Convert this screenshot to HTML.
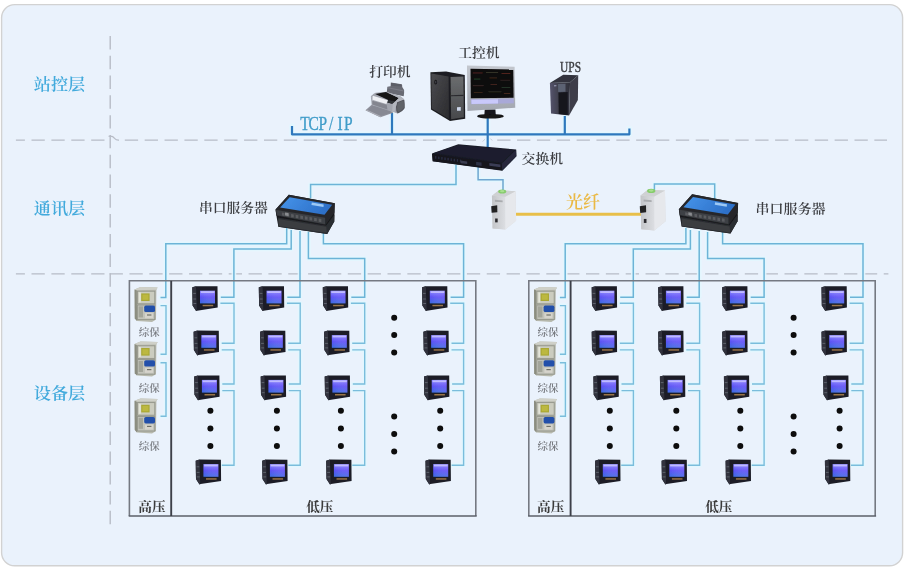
<!DOCTYPE html>
<html lang="zh-CN">
<head>
<meta charset="utf-8">
<title>系统结构图</title>
<style>
html,body{margin:0;padding:0;background:#fff;}
body{width:905px;height:569px;overflow:hidden;font-family:"Liberation Serif","Noto Serif CJK SC",serif;}
svg{display:block;}
</style>
</head>
<body>
<svg width="905" height="569" viewBox="0 0 905 569">
<defs>
<filter id="soft" x="0" y="0" width="905" height="569" filterUnits="userSpaceOnUse"><feGaussianBlur stdDeviation="0.5"/></filter>
<filter id="soft2" x="0" y="0" width="905" height="569" filterUnits="userSpaceOnUse"><feGaussianBlur stdDeviation="0.45"/></filter>
<linearGradient id="scr" x1="0" y1="0" x2="0" y2="1"><stop offset="0" stop-color="#8a86ff"/><stop offset="0.5" stop-color="#5a50f5"/><stop offset="1" stop-color="#3a6ae0"/></linearGradient>
<linearGradient id="gTowerSide" x1="0" y1="0" x2="1" y2="1"><stop offset="0" stop-color="#4c4c50"/><stop offset="1" stop-color="#2a2a2d"/></linearGradient>
<linearGradient id="gTowerFront" x1="0" y1="0" x2="0" y2="1"><stop offset="0" stop-color="#6a6c6e"/><stop offset="1" stop-color="#48494c"/></linearGradient>
<linearGradient id="gBezel" x1="0" y1="0" x2="0" y2="1"><stop offset="0" stop-color="#c3c7ce"/><stop offset="1" stop-color="#a3a7b0"/></linearGradient>
<linearGradient id="gUpsFront" x1="0" y1="0" x2="1" y2="0"><stop offset="0" stop-color="#56556d"/><stop offset="0.4" stop-color="#41414f"/><stop offset="1" stop-color="#30313b"/></linearGradient>
<linearGradient id="gBlue" x1="0" y1="0" x2="1" y2="0.3"><stop offset="0" stop-color="#4694ea"/><stop offset="1" stop-color="#2d70c8"/></linearGradient>
<linearGradient id="gFib" x1="0" y1="0" x2="1" y2="0"><stop offset="0" stop-color="#c3c5c8"/><stop offset="1" stop-color="#dcdee2"/></linearGradient>
<linearGradient id="scr2" x1="0" y1="0" x2="1" y2="0"><stop offset="0" stop-color="#fff" stop-opacity="0"/><stop offset="1" stop-color="#b080ff" stop-opacity="0.25"/></linearGradient>
<symbol id="meter" width="28" height="27" viewBox="0 0 28 27" overflow="visible">
<path d="M0.5 1.3 L4.3 0.2 L25.7 0.3 L25.9 21.5 L5.3 24.7 L4.3 25 L0.8 19.6 Z" fill="#1a1c25"/>
<path d="M0.5 1.3 L4.3 0.2 L5.1 24.7 L4.3 25 L0.8 19.6 Z" fill="#30333d"/>
<path d="M1.4 7.4 H4.1 M1.5 13 H4.3 M1.6 17.5 H4.5" stroke="#6a6d78" stroke-width="0.8" fill="none"/>
<rect x="8.2" y="4.7" width="15" height="12.7" fill="url(#scr)"/>
<rect x="8.2" y="4.7" width="15" height="12.7" fill="url(#scr2)"/>
<rect x="9" y="5.2" width="13.6" height="1.8" fill="#c8c4ff" opacity="0.85"/>
<rect x="10.8" y="18.8" width="10.6" height="1.5" fill="#9a7448"/>
</symbol>
<symbol id="relay" width="26" height="36" viewBox="0 0 26 36" overflow="visible">
<path d="M0.6 3.4 L6.5 1 L23.6 1.5 L22.4 3.8 L22 33.6 L18 36 L3 35 L0.8 32.6 Z" fill="#b7b9ad"/>
<path d="M0.6 3.4 L2.8 4.2 L3 35 L0.8 32.6 Z" fill="#8b8d80"/>
<path d="M6.5 1 L23.6 1.5 L22.4 3.8 L2.8 4.2 L0.6 3.4 Z" fill="#cfd0c8"/>
<rect x="3.4" y="5.2" width="17.4" height="12.6" fill="#cbccbf" stroke="#93958a" stroke-width="0.9"/>
<rect x="5" y="6.4" width="1.8" height="10" fill="#e4e5da"/>
<rect x="7.2" y="7.4" width="8.4" height="7.6" fill="#aaa834"/>
<rect x="8.4" y="8.6" width="6" height="5.2" fill="#bcb840"/>
<rect x="3.4" y="19" width="17.4" height="14.6" fill="#c2c3ba" stroke="#93958a" stroke-width="0.9"/>
<rect x="4.6" y="20.4" width="4.4" height="11" fill="#a3a59a"/>
<rect x="10.2" y="19.6" width="10.8" height="6.4" rx="1.6" fill="#2450aa"/>
<rect x="11" y="27.2" width="8" height="5" fill="#d6d4cc"/>
<rect x="13" y="28.4" width="4.4" height="1.2" fill="#6f7168"/>
</symbol>

</defs>
<g filter="url(#soft)">
<rect x="0" y="0" width="905" height="569" fill="#fff"/>
<rect x="1.6" y="4.6" width="901" height="561.2" rx="13" ry="13" fill="#EAF2FC" stroke="#d2d2d2" stroke-width="1.4"/>
<path d="M110.2 36 V267.1" stroke="#b7bcc6" stroke-width="1.4" stroke-dasharray="13.4 6.39" stroke-dashoffset="0" fill="none"/>
<path d="M110.2 273.3 V524.2" stroke="#b7bcc6" stroke-width="1.4" stroke-dasharray="13.4 6.39" stroke-dashoffset="0" fill="none"/>
<path d="M15.9 140.2 H104.5" stroke="#b7bcc6" stroke-width="1.25" stroke-dasharray="13.3 6.6" stroke-dashoffset="4.3" fill="none"/>
<path d="M124.8 140.2 H476" stroke="#b7bcc6" stroke-width="1.25" stroke-dasharray="13.3 6.58" stroke-dashoffset="0" fill="none"/>
<path d="M497.2 140.2 H887" stroke="#b7bcc6" stroke-width="1.25" stroke-dasharray="13.3 6.55" stroke-dashoffset="0" fill="none"/>
<path d="M108.6 136.4 Q112.5 135.6 114.6 138.4 Q116.2 140.3 119 140.1" fill="none" stroke="#b7bcc6" stroke-width="1.2"/>
<path d="M482.6 141.6 L487.6 136.6 L492.4 140.4" fill="none" stroke="#c9ced8" stroke-width="1"/>
<path d="M15.9 273.9 H104.5" stroke="#b7bcc6" stroke-width="1.25" stroke-dasharray="13.3 6.6" stroke-dashoffset="4.3" fill="none"/>
<path d="M109.6 273.9 H888.4" stroke="#b7bcc6" stroke-width="1.25" stroke-dasharray="13.3 6.55" stroke-dashoffset="0" fill="none"/>
<g opacity="0.9"><path d="M292 126 V134.3 H629.4 V128.5" fill="none" stroke="#E3F7FF" stroke-width="5.6" stroke-linejoin="round" stroke-linecap="round"/>
<path d="M392 113 V134.3" fill="none" stroke="#E3F7FF" stroke-width="5.4" stroke-linecap="round" stroke-linejoin="round"/>
<path d="M487.7 116 V148" fill="none" stroke="#E3F7FF" stroke-width="5.4" stroke-linecap="round" stroke-linejoin="round"/>
<path d="M564.8 116 V134.3" fill="none" stroke="#E3F7FF" stroke-width="5.4" stroke-linecap="round" stroke-linejoin="round"/>
<path d="M456 165 V184.6 H310.6 V198" fill="none" stroke="#E3F7FF" stroke-width="4.7" stroke-linecap="round" stroke-linejoin="round"/>
<path d="M478.1 166 V179.7 H503 V190" fill="none" stroke="#E3F7FF" stroke-width="4.7" stroke-linecap="round" stroke-linejoin="round"/>
<path d="M654.4 190 V184.1 H714.7 V199" fill="none" stroke="#E3F7FF" stroke-width="4.7" stroke-linecap="round" stroke-linejoin="round"/>
<path d="M286.7 228 V243.8 H165.8 V297.6 H160.5" fill="none" stroke="#E3F7FF" stroke-width="4.7" stroke-linecap="round" stroke-linejoin="round"/>
<path d="M291.2 230 V249 H233.9 V297.2 H220.8" fill="none" stroke="#E3F7FF" stroke-width="4.7" stroke-linecap="round" stroke-linejoin="round"/>
<path d="M300 231 V297.2 H287.3" fill="none" stroke="#E3F7FF" stroke-width="4.7" stroke-linecap="round" stroke-linejoin="round"/>
<path d="M308.4 232 V258.6 H364.7 V297.2 H351.3" fill="none" stroke="#E3F7FF" stroke-width="4.7" stroke-linecap="round" stroke-linejoin="round"/>
<path d="M323.4 232 V243.8 H463.6 V297.2 H450.6" fill="none" stroke="#E3F7FF" stroke-width="4.7" stroke-linecap="round" stroke-linejoin="round"/>
<path d="M160.5 305.6 H166 V354.3 H160.5" fill="none" stroke="#E3F7FF" stroke-width="4.6" stroke-linecap="round" stroke-linejoin="round"/>
<path d="M160.5 362.7 H166 V416.3 H160.5" fill="none" stroke="#E3F7FF" stroke-width="4.6" stroke-linecap="round" stroke-linejoin="round"/>
<path d="M220.4 303.3 H234 V343.2 H221.70000000000002" fill="none" stroke="#E3F7FF" stroke-width="4.6" stroke-linecap="round" stroke-linejoin="round"/>
<path d="M221.70000000000002 349.9 H234 V384 H222.3" fill="none" stroke="#E3F7FF" stroke-width="4.6" stroke-linecap="round" stroke-linejoin="round"/>
<path d="M222.3 390.6 H234 V465.2 H221.8" fill="none" stroke="#E3F7FF" stroke-width="4.6" stroke-linecap="round" stroke-linejoin="round"/>
<path d="M286.90000000000003 303.3 H300.2 V343.2 H288.20000000000005" fill="none" stroke="#E3F7FF" stroke-width="4.6" stroke-linecap="round" stroke-linejoin="round"/>
<path d="M288.20000000000005 349.9 H300.2 V384 H288.8" fill="none" stroke="#E3F7FF" stroke-width="4.6" stroke-linecap="round" stroke-linejoin="round"/>
<path d="M288.8 390.6 H300.2 V465.2 H288.3" fill="none" stroke="#E3F7FF" stroke-width="4.6" stroke-linecap="round" stroke-linejoin="round"/>
<path d="M350.90000000000003 303.3 H364.7 V343.2 H352.20000000000005" fill="none" stroke="#E3F7FF" stroke-width="4.6" stroke-linecap="round" stroke-linejoin="round"/>
<path d="M352.20000000000005 349.9 H364.7 V384 H352.8" fill="none" stroke="#E3F7FF" stroke-width="4.6" stroke-linecap="round" stroke-linejoin="round"/>
<path d="M352.8 390.6 H364.7 V465.2 H352.3" fill="none" stroke="#E3F7FF" stroke-width="4.6" stroke-linecap="round" stroke-linejoin="round"/>
<path d="M450.20000000000005 303.3 H463.6 V343.2 H451.50000000000006" fill="none" stroke="#E3F7FF" stroke-width="4.6" stroke-linecap="round" stroke-linejoin="round"/>
<path d="M451.50000000000006 349.9 H463.6 V384 H452.1" fill="none" stroke="#E3F7FF" stroke-width="4.6" stroke-linecap="round" stroke-linejoin="round"/>
<path d="M452.1 390.6 H463.6 V465.2 H451.6" fill="none" stroke="#E3F7FF" stroke-width="4.6" stroke-linecap="round" stroke-linejoin="round"/>
<path d="M685.9 228 V243.8 H565.2 V297.6 H559.9" fill="none" stroke="#E3F7FF" stroke-width="4.7" stroke-linecap="round" stroke-linejoin="round"/>
<path d="M690.4 230 V249 H633.3 V297.2 H620.2" fill="none" stroke="#E3F7FF" stroke-width="4.7" stroke-linecap="round" stroke-linejoin="round"/>
<path d="M699.2 231 V297.2 H686.7" fill="none" stroke="#E3F7FF" stroke-width="4.7" stroke-linecap="round" stroke-linejoin="round"/>
<path d="M707.5999999999999 232 V258.6 H764.0999999999999 V297.2 H750.7" fill="none" stroke="#E3F7FF" stroke-width="4.7" stroke-linecap="round" stroke-linejoin="round"/>
<path d="M722.5999999999999 232 V243.8 H863.0 V297.2 H850.0" fill="none" stroke="#E3F7FF" stroke-width="4.7" stroke-linecap="round" stroke-linejoin="round"/>
<path d="M559.9 305.6 H565.4 V354.3 H559.9" fill="none" stroke="#E3F7FF" stroke-width="4.6" stroke-linecap="round" stroke-linejoin="round"/>
<path d="M559.9 362.7 H565.4 V416.3 H559.9" fill="none" stroke="#E3F7FF" stroke-width="4.6" stroke-linecap="round" stroke-linejoin="round"/>
<path d="M619.8 303.3 H633.4 V343.2 H619.8" fill="none" stroke="#E3F7FF" stroke-width="4.6" stroke-linecap="round" stroke-linejoin="round"/>
<path d="M619.8 349.9 H633.4 V384 H621.5" fill="none" stroke="#E3F7FF" stroke-width="4.6" stroke-linecap="round" stroke-linejoin="round"/>
<path d="M621.5 390.6 H633.4 V465.2 H621.1999999999999" fill="none" stroke="#E3F7FF" stroke-width="4.6" stroke-linecap="round" stroke-linejoin="round"/>
<path d="M686.3 303.3 H699.5999999999999 V343.2 H686.3" fill="none" stroke="#E3F7FF" stroke-width="4.6" stroke-linecap="round" stroke-linejoin="round"/>
<path d="M686.3 349.9 H699.5999999999999 V384 H688.0" fill="none" stroke="#E3F7FF" stroke-width="4.6" stroke-linecap="round" stroke-linejoin="round"/>
<path d="M688.0 390.6 H699.5999999999999 V465.2 H687.6999999999999" fill="none" stroke="#E3F7FF" stroke-width="4.6" stroke-linecap="round" stroke-linejoin="round"/>
<path d="M750.3 303.3 H764.0999999999999 V343.2 H750.3" fill="none" stroke="#E3F7FF" stroke-width="4.6" stroke-linecap="round" stroke-linejoin="round"/>
<path d="M750.3 349.9 H764.0999999999999 V384 H752.0" fill="none" stroke="#E3F7FF" stroke-width="4.6" stroke-linecap="round" stroke-linejoin="round"/>
<path d="M752.0 390.6 H764.0999999999999 V465.2 H751.6999999999999" fill="none" stroke="#E3F7FF" stroke-width="4.6" stroke-linecap="round" stroke-linejoin="round"/>
<path d="M849.6 303.3 H863.0 V343.2 H849.6" fill="none" stroke="#E3F7FF" stroke-width="4.6" stroke-linecap="round" stroke-linejoin="round"/>
<path d="M849.6 349.9 H863.0 V384 H851.3000000000001" fill="none" stroke="#E3F7FF" stroke-width="4.6" stroke-linecap="round" stroke-linejoin="round"/>
<path d="M851.3000000000001 390.6 H863.0 V465.2 H851.0" fill="none" stroke="#E3F7FF" stroke-width="4.6" stroke-linecap="round" stroke-linejoin="round"/></g>
<text x="33.8" y="89.7" font-size="16.4" fill="#43AADC" font-family='"Liberation Serif","Noto Serif CJK SC",serif' textLength="51.4" lengthAdjust="spacingAndGlyphs" font-weight="600">站控层</text>
<text x="33.8" y="213.9" font-size="16.4" fill="#43AADC" font-family='"Liberation Serif","Noto Serif CJK SC",serif' textLength="51.4" lengthAdjust="spacingAndGlyphs" font-weight="600">通讯层</text>
<text x="33.8" y="398.6" font-size="16.4" fill="#43AADC" font-family='"Liberation Serif","Noto Serif CJK SC",serif' textLength="51.4" lengthAdjust="spacingAndGlyphs" font-weight="600">设备层</text>
<path d="M292 126 V134.3 H629.4 V128.5" fill="none" stroke="#2E78BD" stroke-width="2.2" stroke-linejoin="round"/>
<path d="M392 113 V134.3" fill="none" stroke="#2E78BD" stroke-width="2.2"/>
<path d="M487.7 116 V148" fill="none" stroke="#2E78BD" stroke-width="2.2"/>
<path d="M564.8 116 V134.3" fill="none" stroke="#2E78BD" stroke-width="2.2"/>
<text transform="translate(300.2 130.4) scale(0.87 1)" font-size="17.8" fill="#3F9CC9" stroke="#3F9CC9" stroke-width="0.3" font-family='"Liberation Serif",serif' x="0 9.6 21 33 42.8 50.4" y="0">TCP/IP</text>
<text x="369.2" y="76.0" font-size="13" fill="#3c3e42" font-family='"Liberation Serif","Noto Serif CJK SC",serif' textLength="41.4" lengthAdjust="spacingAndGlyphs" font-weight="600">打印机</text>
<text x="458.2" y="57.3" font-size="13" fill="#3c3e42" font-family='"Liberation Serif","Noto Serif CJK SC",serif' textLength="41.4" lengthAdjust="spacingAndGlyphs" font-weight="600">工控机</text>
<text x="560" y="71.8" font-size="14" fill="#3c3e42" font-family='"Liberation Serif","Noto Serif CJK SC",serif' textLength="21" lengthAdjust="spacingAndGlyphs" stroke="#3c3e42" stroke-width="0.4">UPS</text>
<text x="521.6" y="162.9" font-size="13" fill="#3c3e42" font-family='"Liberation Serif","Noto Serif CJK SC",serif' textLength="41.4" lengthAdjust="spacingAndGlyphs" font-weight="600">交换机</text>
<text x="198.9" y="211.8" font-size="13" fill="#3c3e42" font-family='"Liberation Serif","Noto Serif CJK SC",serif' textLength="69" lengthAdjust="spacingAndGlyphs" font-weight="600">串口服务器</text>
<text x="755.6" y="212.9" font-size="13" fill="#3c3e42" font-family='"Liberation Serif","Noto Serif CJK SC",serif' textLength="70" lengthAdjust="spacingAndGlyphs" font-weight="600">串口服务器</text>
<text x="566" y="208" font-size="17" fill="#EAB945" font-family='"Liberation Serif","Noto Serif CJK SC",serif' textLength="34" lengthAdjust="spacingAndGlyphs" font-weight="600">光纤</text>
<path d="M456 165 V184.6 H310.6 V198" fill="none" stroke="#6CB4D7" stroke-width="1.5"/>
<path d="M478.1 166 V179.7 H503 V190" fill="none" stroke="#6FA6D0" stroke-width="1.5"/>
<path d="M516 214.3 H642" fill="none" stroke="#E8BF4A" stroke-width="3"/>
<path d="M654.4 190 V184.1 H714.7 V199" fill="none" stroke="#6CB4D7" stroke-width="1.5"/>
<path d="M286.7 228 V243.8 H165.8 V297.6 H160.5" fill="none" stroke="#6CB4D7" stroke-width="1.5"/>
<path d="M291.2 230 V249 H233.9 V297.2 H220.8" fill="none" stroke="#6CB4D7" stroke-width="1.5"/>
<path d="M300 231 V297.2 H287.3" fill="none" stroke="#6CB4D7" stroke-width="1.5"/>
<path d="M308.4 232 V258.6 H364.7 V297.2 H351.3" fill="none" stroke="#6CB4D7" stroke-width="1.5"/>
<path d="M323.4 232 V243.8 H463.6 V297.2 H450.6" fill="none" stroke="#6CB4D7" stroke-width="1.5"/>
<path d="M129.4 516 V280.8 H475.79999999999995 V516" fill="none" stroke="#757982" stroke-width="1.6"/>
<path d="M128.70000000000002 516 H476.70000000000005" fill="none" stroke="#5b5f68" stroke-width="1.6"/>
<path d="M171.2 280.8 V516" fill="none" stroke="#3c4048" stroke-width="1.9"/>
<path d="M160.5 305.6 H166 V354.3 H160.5" fill="none" stroke="#7ABDDC" stroke-width="1.4"/>
<path d="M160.5 362.7 H166 V416.3 H160.5" fill="none" stroke="#7ABDDC" stroke-width="1.4"/>
<use href="#relay" x="134" y="286.0"/>
<use href="#relay" x="134" y="340.6"/>
<use href="#relay" x="134" y="397.4"/>
<text x="138.8" y="336.3" font-size="10.4" fill="#787b81" font-family='"Liberation Serif","Noto Serif CJK SC",serif' textLength="21" lengthAdjust="spacingAndGlyphs" font-weight="600">综保</text>
<text x="138.8" y="391.8" font-size="10.4" fill="#787b81" font-family='"Liberation Serif","Noto Serif CJK SC",serif' textLength="21" lengthAdjust="spacingAndGlyphs" font-weight="600">综保</text>
<text x="138.8" y="449.8" font-size="10.4" fill="#787b81" font-family='"Liberation Serif","Noto Serif CJK SC",serif' textLength="21" lengthAdjust="spacingAndGlyphs" font-weight="600">综保</text>
<use href="#meter" x="191.8" y="286"/>
<use href="#meter" x="193.10000000000002" y="330.4"/>
<use href="#meter" x="193.70000000000002" y="375.2"/>
<use href="#meter" x="195.20000000000002" y="459.4"/>
<path d="M220.4 303.3 H234 V343.2 H221.70000000000002" fill="none" stroke="#7ABDDC" stroke-width="1.4"/>
<path d="M221.70000000000002 349.9 H234 V384 H222.3" fill="none" stroke="#7ABDDC" stroke-width="1.4"/>
<path d="M222.3 390.6 H234 V465.2 H221.8" fill="none" stroke="#7ABDDC" stroke-width="1.4"/>
<circle cx="210.4" cy="410.7" r="3" fill="#0a0a0a"/>
<circle cx="210.4" cy="428.6" r="3" fill="#0a0a0a"/>
<circle cx="210.4" cy="446" r="3" fill="#0a0a0a"/>
<use href="#meter" x="258.3" y="286"/>
<use href="#meter" x="259.6" y="330.4"/>
<use href="#meter" x="260.2" y="375.2"/>
<use href="#meter" x="261.7" y="459.4"/>
<path d="M286.90000000000003 303.3 H300.2 V343.2 H288.20000000000005" fill="none" stroke="#7ABDDC" stroke-width="1.4"/>
<path d="M288.20000000000005 349.9 H300.2 V384 H288.8" fill="none" stroke="#7ABDDC" stroke-width="1.4"/>
<path d="M288.8 390.6 H300.2 V465.2 H288.3" fill="none" stroke="#7ABDDC" stroke-width="1.4"/>
<circle cx="276.90000000000003" cy="410.7" r="3" fill="#0a0a0a"/>
<circle cx="276.90000000000003" cy="428.6" r="3" fill="#0a0a0a"/>
<circle cx="276.90000000000003" cy="446" r="3" fill="#0a0a0a"/>
<use href="#meter" x="322.3" y="286"/>
<use href="#meter" x="323.6" y="330.4"/>
<use href="#meter" x="324.2" y="375.2"/>
<use href="#meter" x="325.7" y="459.4"/>
<path d="M350.90000000000003 303.3 H364.7 V343.2 H352.20000000000005" fill="none" stroke="#7ABDDC" stroke-width="1.4"/>
<path d="M352.20000000000005 349.9 H364.7 V384 H352.8" fill="none" stroke="#7ABDDC" stroke-width="1.4"/>
<path d="M352.8 390.6 H364.7 V465.2 H352.3" fill="none" stroke="#7ABDDC" stroke-width="1.4"/>
<circle cx="340.90000000000003" cy="410.7" r="3" fill="#0a0a0a"/>
<circle cx="340.90000000000003" cy="428.6" r="3" fill="#0a0a0a"/>
<circle cx="340.90000000000003" cy="446" r="3" fill="#0a0a0a"/>
<use href="#meter" x="421.6" y="286"/>
<use href="#meter" x="422.90000000000003" y="330.4"/>
<use href="#meter" x="423.5" y="375.2"/>
<use href="#meter" x="425.0" y="459.4"/>
<path d="M450.20000000000005 303.3 H463.6 V343.2 H451.50000000000006" fill="none" stroke="#7ABDDC" stroke-width="1.4"/>
<path d="M451.50000000000006 349.9 H463.6 V384 H452.1" fill="none" stroke="#7ABDDC" stroke-width="1.4"/>
<path d="M452.1 390.6 H463.6 V465.2 H451.6" fill="none" stroke="#7ABDDC" stroke-width="1.4"/>
<circle cx="440.20000000000005" cy="410.7" r="3" fill="#0a0a0a"/>
<circle cx="440.20000000000005" cy="428.6" r="3" fill="#0a0a0a"/>
<circle cx="440.20000000000005" cy="446" r="3" fill="#0a0a0a"/>
<circle cx="394.2" cy="317.8" r="3" fill="#0a0a0a"/>
<circle cx="394.2" cy="335.1" r="3" fill="#0a0a0a"/>
<circle cx="394.2" cy="352.5" r="3" fill="#0a0a0a"/>
<circle cx="394.2" cy="416.6" r="3" fill="#0a0a0a"/>
<circle cx="394.2" cy="434" r="3" fill="#0a0a0a"/>
<circle cx="394.2" cy="451.6" r="3" fill="#0a0a0a"/>
<text x="138.3" y="510.8" font-size="12.8" fill="#3a3a3a" font-family='"Liberation Serif","Noto Serif CJK SC",serif' textLength="27.2" lengthAdjust="spacingAndGlyphs" font-weight="700">高压</text>
<text x="306.2" y="510.5" font-size="12.8" fill="#3a3a3a" font-family='"Liberation Serif","Noto Serif CJK SC",serif' textLength="27.2" lengthAdjust="spacingAndGlyphs" font-weight="700">低压</text>
<path d="M685.9 228 V243.8 H565.2 V297.6 H559.9" fill="none" stroke="#6CB4D7" stroke-width="1.5"/>
<path d="M690.4 230 V249 H633.3 V297.2 H620.2" fill="none" stroke="#6CB4D7" stroke-width="1.5"/>
<path d="M699.2 231 V297.2 H686.7" fill="none" stroke="#6CB4D7" stroke-width="1.5"/>
<path d="M707.5999999999999 232 V258.6 H764.0999999999999 V297.2 H750.7" fill="none" stroke="#6CB4D7" stroke-width="1.5"/>
<path d="M722.5999999999999 232 V243.8 H863.0 V297.2 H850.0" fill="none" stroke="#6CB4D7" stroke-width="1.5"/>
<path d="M528.8 516 V280.8 H875.1999999999999 V516" fill="none" stroke="#757982" stroke-width="1.6"/>
<path d="M528.0999999999999 516 H876.0999999999999" fill="none" stroke="#5b5f68" stroke-width="1.6"/>
<path d="M570.5999999999999 280.8 V516" fill="none" stroke="#3c4048" stroke-width="1.9"/>
<path d="M559.9 305.6 H565.4 V354.3 H559.9" fill="none" stroke="#7ABDDC" stroke-width="1.4"/>
<path d="M559.9 362.7 H565.4 V416.3 H559.9" fill="none" stroke="#7ABDDC" stroke-width="1.4"/>
<use href="#relay" x="533.4" y="286.0"/>
<use href="#relay" x="533.4" y="340.6"/>
<use href="#relay" x="533.4" y="397.4"/>
<text x="537.6" y="336.3" font-size="10.4" fill="#787b81" font-family='"Liberation Serif","Noto Serif CJK SC",serif' textLength="21" lengthAdjust="spacingAndGlyphs" font-weight="600">综保</text>
<text x="537.6" y="391.8" font-size="10.4" fill="#787b81" font-family='"Liberation Serif","Noto Serif CJK SC",serif' textLength="21" lengthAdjust="spacingAndGlyphs" font-weight="600">综保</text>
<text x="537.6" y="449.8" font-size="10.4" fill="#787b81" font-family='"Liberation Serif","Noto Serif CJK SC",serif' textLength="21" lengthAdjust="spacingAndGlyphs" font-weight="600">综保</text>
<use href="#meter" x="591.2" y="286"/>
<use href="#meter" x="591.2" y="330.4"/>
<use href="#meter" x="592.9000000000001" y="375.2"/>
<use href="#meter" x="594.6" y="459.4"/>
<path d="M619.8 303.3 H633.4 V343.2 H619.8" fill="none" stroke="#7ABDDC" stroke-width="1.4"/>
<path d="M619.8 349.9 H633.4 V384 H621.5" fill="none" stroke="#7ABDDC" stroke-width="1.4"/>
<path d="M621.5 390.6 H633.4 V465.2 H621.1999999999999" fill="none" stroke="#7ABDDC" stroke-width="1.4"/>
<circle cx="609.8" cy="410.7" r="3" fill="#0a0a0a"/>
<circle cx="609.8" cy="428.6" r="3" fill="#0a0a0a"/>
<circle cx="609.8" cy="446" r="3" fill="#0a0a0a"/>
<use href="#meter" x="657.7" y="286"/>
<use href="#meter" x="657.7" y="330.4"/>
<use href="#meter" x="659.4000000000001" y="375.2"/>
<use href="#meter" x="661.1" y="459.4"/>
<path d="M686.3 303.3 H699.5999999999999 V343.2 H686.3" fill="none" stroke="#7ABDDC" stroke-width="1.4"/>
<path d="M686.3 349.9 H699.5999999999999 V384 H688.0" fill="none" stroke="#7ABDDC" stroke-width="1.4"/>
<path d="M688.0 390.6 H699.5999999999999 V465.2 H687.6999999999999" fill="none" stroke="#7ABDDC" stroke-width="1.4"/>
<circle cx="676.3" cy="410.7" r="3" fill="#0a0a0a"/>
<circle cx="676.3" cy="428.6" r="3" fill="#0a0a0a"/>
<circle cx="676.3" cy="446" r="3" fill="#0a0a0a"/>
<use href="#meter" x="721.7" y="286"/>
<use href="#meter" x="721.7" y="330.4"/>
<use href="#meter" x="723.4000000000001" y="375.2"/>
<use href="#meter" x="725.1" y="459.4"/>
<path d="M750.3 303.3 H764.0999999999999 V343.2 H750.3" fill="none" stroke="#7ABDDC" stroke-width="1.4"/>
<path d="M750.3 349.9 H764.0999999999999 V384 H752.0" fill="none" stroke="#7ABDDC" stroke-width="1.4"/>
<path d="M752.0 390.6 H764.0999999999999 V465.2 H751.6999999999999" fill="none" stroke="#7ABDDC" stroke-width="1.4"/>
<circle cx="740.3" cy="410.7" r="3" fill="#0a0a0a"/>
<circle cx="740.3" cy="428.6" r="3" fill="#0a0a0a"/>
<circle cx="740.3" cy="446" r="3" fill="#0a0a0a"/>
<use href="#meter" x="821.0" y="286"/>
<use href="#meter" x="821.0" y="330.4"/>
<use href="#meter" x="822.7" y="375.2"/>
<use href="#meter" x="824.4" y="459.4"/>
<path d="M849.6 303.3 H863.0 V343.2 H849.6" fill="none" stroke="#7ABDDC" stroke-width="1.4"/>
<path d="M849.6 349.9 H863.0 V384 H851.3000000000001" fill="none" stroke="#7ABDDC" stroke-width="1.4"/>
<path d="M851.3000000000001 390.6 H863.0 V465.2 H851.0" fill="none" stroke="#7ABDDC" stroke-width="1.4"/>
<circle cx="839.6" cy="410.7" r="3" fill="#0a0a0a"/>
<circle cx="839.6" cy="428.6" r="3" fill="#0a0a0a"/>
<circle cx="839.6" cy="446" r="3" fill="#0a0a0a"/>
<circle cx="793.5999999999999" cy="317.8" r="3" fill="#0a0a0a"/>
<circle cx="793.5999999999999" cy="335.1" r="3" fill="#0a0a0a"/>
<circle cx="793.5999999999999" cy="352.5" r="3" fill="#0a0a0a"/>
<circle cx="793.5999999999999" cy="416.6" r="3" fill="#0a0a0a"/>
<circle cx="793.5999999999999" cy="434" r="3" fill="#0a0a0a"/>
<circle cx="793.5999999999999" cy="451.6" r="3" fill="#0a0a0a"/>
<text x="537.1" y="510.8" font-size="12.8" fill="#3a3a3a" font-family='"Liberation Serif","Noto Serif CJK SC",serif' textLength="27.2" lengthAdjust="spacingAndGlyphs" font-weight="700">高压</text>
<text x="705.1999999999999" y="510.5" font-size="12.8" fill="#3a3a3a" font-family='"Liberation Serif","Noto Serif CJK SC",serif' textLength="27.2" lengthAdjust="spacingAndGlyphs" font-weight="700">低压</text>
<g filter="url(#soft2)">
<path transform="translate(358 80) scale(0.06680)" d="M492 38 L655 62 Q665 80 662 105 L690 150 Q694 200 684 245 L430 190 L440 100 L488 92 Z" fill="#686a73"/>
<path transform="translate(358 80) scale(0.06680)" d="M498 46 L648 68 L652 98 L496 86 Z" fill="#5c5e67"/>
<path transform="translate(358 80) scale(0.06680)" d="M446 108 L680 155 L682 172 L444 124 Z" fill="#7a7c86"/>
<path transform="translate(358 80) scale(0.06680)" d="M112 452 L205 370 L470 440 L528 492 L335 556 Z" fill="#8f919b"/>
<path transform="translate(358 80) scale(0.06680)" d="M112 452 L335 556 L345 540 L140 444 Z" fill="#a9abb4"/>
<path transform="translate(358 80) scale(0.06680)" d="M215 385 L455 445 L500 485 L340 535 L150 450 Z" fill="#878993"/>
<path transform="translate(358 80) scale(0.06680)" d="M192 248 Q200 225 262 190 L430 176 L640 248 Q690 280 696 300 L700 420 Q680 470 590 502 L540 484 L450 455 L205 375 Z" fill="#a2a5ae"/>
<path transform="translate(358 80) scale(0.06680)" d="M585 330 Q640 290 690 296 Q702 360 698 420 Q670 470 594 500 Q565 470 568 400 Z" fill="#54565d"/>
<path transform="translate(358 80) scale(0.06680)" d="M600 345 Q640 315 680 312 Q690 360 686 412 Q660 452 604 478 Q585 450 586 400 Z" fill="#616369"/>
<path transform="translate(358 80) scale(0.06680)" d="M258 208 L420 178 L612 268 L565 318 L512 356 L440 335 L452 300 Z" fill="#131317"/>
<path transform="translate(358 80) scale(0.06680)" d="M452 300 L565 318 L512 356 L440 335 Z" fill="#2f3036"/>
<path transform="translate(358 80) scale(0.06680)" d="M420 178 L640 248 L690 292 L585 332 L545 480 L512 470 L520 356 L612 268 Z" fill="#b3b6be"/>
<path transform="translate(358 80) scale(0.06680)" d="M222 236 L445 302 L425 358 L225 300 Z" fill="#eef0f4"/>
<path transform="translate(358 80) scale(0.06680)" d="M215 310 L430 370 L440 440 L215 365 Z" fill="#84868f"/>
<path transform="translate(358 80) scale(0.06680)" d="M205 250 L222 238 L226 300 L214 310 Z" fill="#c9ccd3"/>
<polygon points="430.42,72.19 446.15,71.52 464.75,75.07 465.20,118.70 450.02,120.91 430.98,109.40" fill="#1d1d20"/>
<polygon points="431.31,73.52 448.58,76.40 449.03,119.03 431.75,108.51" fill="url(#gTowerSide)"/>
<polygon points="450.58,77.06 463.42,76.62 463.87,117.37 451.13,119.14" fill="url(#gTowerFront)"/>
<polygon points="450.58,95.22 463.53,94.78 463.53,95.89 450.58,96.33" fill="#2a2a2e"/>
<polygon points="457.00,107.18 460.77,107.07 460.77,110.73 457.00,110.84" fill="#ccd6ea"/>
<ellipse cx="435.63" cy="82.16" rx="1.44" ry="2.44" fill="#151518"/>
<ellipse cx="435.63" cy="82.16" rx="0.78" ry="1.44" fill="#3a3a40"/>
<polygon points="484.69,109.62 495.43,109.62 495.76,115.71 484.35,115.71" fill="#16161a"/>
<ellipse cx="490.45" cy="116.26" rx="13.29" ry="2.33" fill="#121214"/>
<polygon points="466.97,65.54 514.59,66.87 515.25,107.63 467.41,110.95" fill="url(#gBezel)"/>
<polygon points="470.51,68.87 513.26,69.53 513.59,97.66 470.84,98.32" fill="#0b0809"/>
<polygon points="470.84,99.21 513.70,98.54 513.81,103.20 471.07,104.19" fill="#a9a9d8"/>
<polygon points="471.40,99.65 497.98,99.21 497.98,103.42 471.62,103.97" fill="#c9c9fb"/>
<rect x="472.73" y="72.52" width="9.97" height="0.9" fill="#5a2a24"/>
<rect x="486.02" y="71.97" width="12.18" height="0.9" fill="#3a3a2a"/>
<rect x="501.52" y="73.07" width="8.86" height="0.9" fill="#5a2420"/>
<rect x="473.83" y="78.61" width="6.64" height="0.9" fill="#244a34"/>
<rect x="489.34" y="77.50" width="7.75" height="0.9" fill="#4a3020"/>
<rect x="500.41" y="79.72" width="9.97" height="0.9" fill="#3a2626"/>
<rect x="472.73" y="85.26" width="11.07" height="0.9" fill="#3a2a2a"/>
<rect x="490.45" y="84.15" width="6.64" height="0.9" fill="#4a2a22"/>
<rect x="501.52" y="86.92" width="8.86" height="0.9" fill="#2a3a2c"/>
<rect x="473.83" y="91.90" width="8.86" height="0.9" fill="#40281f"/>
<rect x="488.23" y="91.35" width="13.29" height="0.9" fill="#33302a"/>
<rect x="503.73" y="93.01" width="6.64" height="0.9" fill="#4a2a22"/>
<polygon points="549.90,83.03 570.07,82.36 569.07,115.53 551.03,113.53" fill="url(#gUpsFront)"/>
<polygon points="570.07,82.36 578.22,75.21 577.89,100.03 569.07,115.53" fill="#3c3e48"/>
<polygon points="549.90,83.03 563.26,74.68 578.22,75.21 570.07,82.36" fill="#30323c"/>
<polygon points="558.38,92.38 567.73,92.05 567.73,115.06 558.72,114.06" fill="#17171f"/>
<polygon points="558.05,84.03 565.53,83.83 565.53,91.71 558.18,92.05" fill="#5b6273"/>
<polygon points="554.04,85.03 556.38,84.90 556.38,86.37 554.04,86.50" fill="#8a8ca6"/>
<polygon points="431.97,153.38 458.33,144.30 516.14,149.50 516.36,156.37 502.18,170.77 432.64,161.35" fill="#181a26"/>
<polygon points="433.97,153.05 458.55,145.07 514.81,150.06 501.52,162.57" fill="#1d1f2d"/>
<polygon points="501.74,163.46 516.14,149.73 516.36,156.37 502.18,170.77" fill="#25273a"/>
<polygon points="432.19,153.93 501.52,163.68 501.96,170.32 432.86,161.13" fill="#13141d"/>
<rect x="435.07" y="156.15" width="1.3" height="2.6" fill="#2c2f44"/>
<rect x="438.17" y="156.58" width="1.3" height="2.6" fill="#2c2f44"/>
<rect x="441.28" y="157.02" width="1.3" height="2.6" fill="#2c2f44"/>
<rect x="444.38" y="157.45" width="1.3" height="2.6" fill="#2c2f44"/>
<rect x="447.48" y="157.88" width="1.3" height="2.6" fill="#2c2f44"/>
<rect x="450.58" y="158.32" width="1.3" height="2.6" fill="#2c2f44"/>
<rect x="453.68" y="158.75" width="1.3" height="2.6" fill="#2c2f44"/>
<rect x="456.78" y="159.19" width="1.3" height="2.6" fill="#2c2f44"/>
<rect x="459.88" y="159.62" width="1.3" height="2.6" fill="#2c2f44"/>
<polygon points="460.54,160.58 467.19,161.46 467.19,164.12 460.54,163.24" fill="#3a3d50"/>
<polygon points="476.05,161.69 481.59,162.46 481.59,166.12 476.05,165.34" fill="#2d3044"/>
<polygon points="489.34,163.01 500.41,164.56 500.41,167.22 489.34,165.67" fill="#3a3d55"/>
<polygon points="275.55,209.43 288.81,194.66 334.79,203.24 334.26,221.54 327.18,233.92 278.38,226.85 276.43,215.80" fill="#17181b"/>
<polygon points="277.67,217.39 326.12,225.61 334.26,214.74 334.26,221.54 327.18,233.92 278.38,226.85" fill="#2b2d31"/>
<polygon points="278.38,218.89 326.30,226.85 326.83,232.86 278.82,225.96" fill="#3b3d41"/>
<polygon points="275.55,209.43 288.81,194.66 334.79,203.24 334.26,212.70 325.42,225.08 276.43,215.80" fill="#26282c"/>
<polygon points="280.15,207.49 289.70,197.32 332.14,204.74 324.53,214.74" fill="url(#gBlue)"/>
<polygon points="311.80,202.62 323.65,204.57 323.47,207.04 311.45,205.10" fill="#9cc8f4"/>
<polygon points="276.26,210.05 325.06,217.83 325.06,224.20 276.96,215.18" fill="#3e4044"/>
<polygon points="281.92,212.53 284.57,212.97 284.57,216.06 281.92,215.62" fill="#5a5c60"/>
<polygon points="286.51,213.28 289.17,213.73 289.17,216.82 286.51,216.38" fill="#5a5c60"/>
<polygon points="291.11,214.04 293.76,214.48 293.76,217.58 291.11,217.14" fill="#5a5c60"/>
<polygon points="295.71,214.80 298.36,215.24 298.36,218.34 295.71,217.90" fill="#5a5c60"/>
<polygon points="300.31,215.56 302.96,216.00 302.96,219.10 300.31,218.65" fill="#5a5c60"/>
<polygon points="304.90,216.32 307.56,216.76 307.56,219.85 304.90,219.41" fill="#5a5c60"/>
<polygon points="309.50,217.08 312.15,217.52 312.15,220.61 309.50,220.17" fill="#5a5c60"/>
<polygon points="314.10,217.84 316.75,218.28 316.75,221.37 314.10,220.93" fill="#5a5c60"/>
<polygon points="318.70,218.59 321.35,219.04 321.35,222.13 318.70,221.69" fill="#5a5c60"/>
<polygon points="285.01,212.53 288.55,213.06 288.55,216.06 285.01,215.53" fill="#8a8c90"/>
<polygon points="678.85,209.13 692.11,194.36 738.09,202.94 737.56,221.24 730.48,233.62 681.68,226.55 679.73,215.50" fill="#17181b"/>
<polygon points="680.97,217.09 729.42,225.31 737.56,214.44 737.56,221.24 730.48,233.62 681.68,226.55" fill="#2b2d31"/>
<polygon points="681.68,218.59 729.60,226.55 730.13,232.56 682.12,225.66" fill="#3b3d41"/>
<polygon points="678.85,209.13 692.11,194.36 738.09,202.94 737.56,212.40 728.72,224.78 679.73,215.50" fill="#26282c"/>
<polygon points="683.45,207.19 693.00,197.02 735.44,204.44 727.83,214.44" fill="url(#gBlue)"/>
<polygon points="715.10,202.32 726.95,204.27 726.77,206.74 714.75,204.80" fill="#9cc8f4"/>
<polygon points="679.56,209.75 728.36,217.53 728.36,223.90 680.26,214.88" fill="#3e4044"/>
<polygon points="685.22,212.23 687.87,212.67 687.87,215.76 685.22,215.32" fill="#5a5c60"/>
<polygon points="689.81,212.98 692.47,213.43 692.47,216.52 689.81,216.08" fill="#5a5c60"/>
<polygon points="694.41,213.74 697.06,214.18 697.06,217.28 694.41,216.84" fill="#5a5c60"/>
<polygon points="699.01,214.50 701.66,214.94 701.66,218.04 699.01,217.60" fill="#5a5c60"/>
<polygon points="703.61,215.26 706.26,215.70 706.26,218.80 703.61,218.35" fill="#5a5c60"/>
<polygon points="708.20,216.02 710.86,216.46 710.86,219.55 708.20,219.11" fill="#5a5c60"/>
<polygon points="712.80,216.78 715.45,217.22 715.45,220.31 712.80,219.87" fill="#5a5c60"/>
<polygon points="717.40,217.54 720.05,217.98 720.05,221.07 717.40,220.63" fill="#5a5c60"/>
<polygon points="722.00,218.29 724.65,218.74 724.65,221.83 722.00,221.39" fill="#5a5c60"/>
<polygon points="688.31,212.23 691.85,212.76 691.85,215.76 688.31,215.23" fill="#8a8c90"/>
<polygon points="491.94,195.77 498.90,190.35 515.53,191.13 516.15,220.67 505.32,229.56 492.56,228.40" fill="#dadcdf"/>
<polygon points="491.94,195.77 505.09,196.85 505.32,229.56 492.56,228.40" fill="url(#gFib)"/>
<polygon points="505.09,196.85 515.53,191.13 516.15,220.67 505.32,229.56" fill="#e6e8ec"/>
<polygon points="491.94,195.77 498.90,190.35 515.53,191.13 505.09,196.85" fill="#cfd1d3"/>
<ellipse cx="502.23" cy="191.44" rx="4.02" ry="2.01" fill="#86cc6c"/>
<ellipse cx="502.23" cy="191.13" rx="2.17" ry="1.01" fill="#a8e090"/>
<polygon points="491.17,206.13 497.20,205.20 497.36,212.16 491.63,212.78" fill="#202024"/>
<polygon points="495.11,218.50 497.67,218.50 497.67,222.37 495.11,222.37" fill="#2a2a2e"/>
<polygon points="494.88,199.79 502.62,200.41 502.62,202.26 494.88,201.72" fill="#a9abae"/>
<g transform="translate(640.10 188.40) scale(1.035) translate(-491.50 -189.00)">
<polygon points="491.94,195.77 498.90,190.35 515.53,191.13 516.15,220.67 505.32,229.56 492.56,228.40" fill="#dadcdf"/>
<polygon points="491.94,195.77 505.09,196.85 505.32,229.56 492.56,228.40" fill="url(#gFib)"/>
<polygon points="505.09,196.85 515.53,191.13 516.15,220.67 505.32,229.56" fill="#e6e8ec"/>
<polygon points="491.94,195.77 498.90,190.35 515.53,191.13 505.09,196.85" fill="#cfd1d3"/>
<ellipse cx="502.23" cy="191.44" rx="4.02" ry="2.01" fill="#86cc6c"/>
<ellipse cx="502.23" cy="191.13" rx="2.17" ry="1.01" fill="#a8e090"/>
<polygon points="491.17,206.13 497.20,205.20 497.36,212.16 491.63,212.78" fill="#202024"/>
<polygon points="495.11,218.50 497.67,218.50 497.67,222.37 495.11,222.37" fill="#2a2a2e"/>
<polygon points="494.88,199.79 502.62,200.41 502.62,202.26 494.88,201.72" fill="#a9abae"/>
</g>
</g>
</g>
</svg>
</body>
</html>
